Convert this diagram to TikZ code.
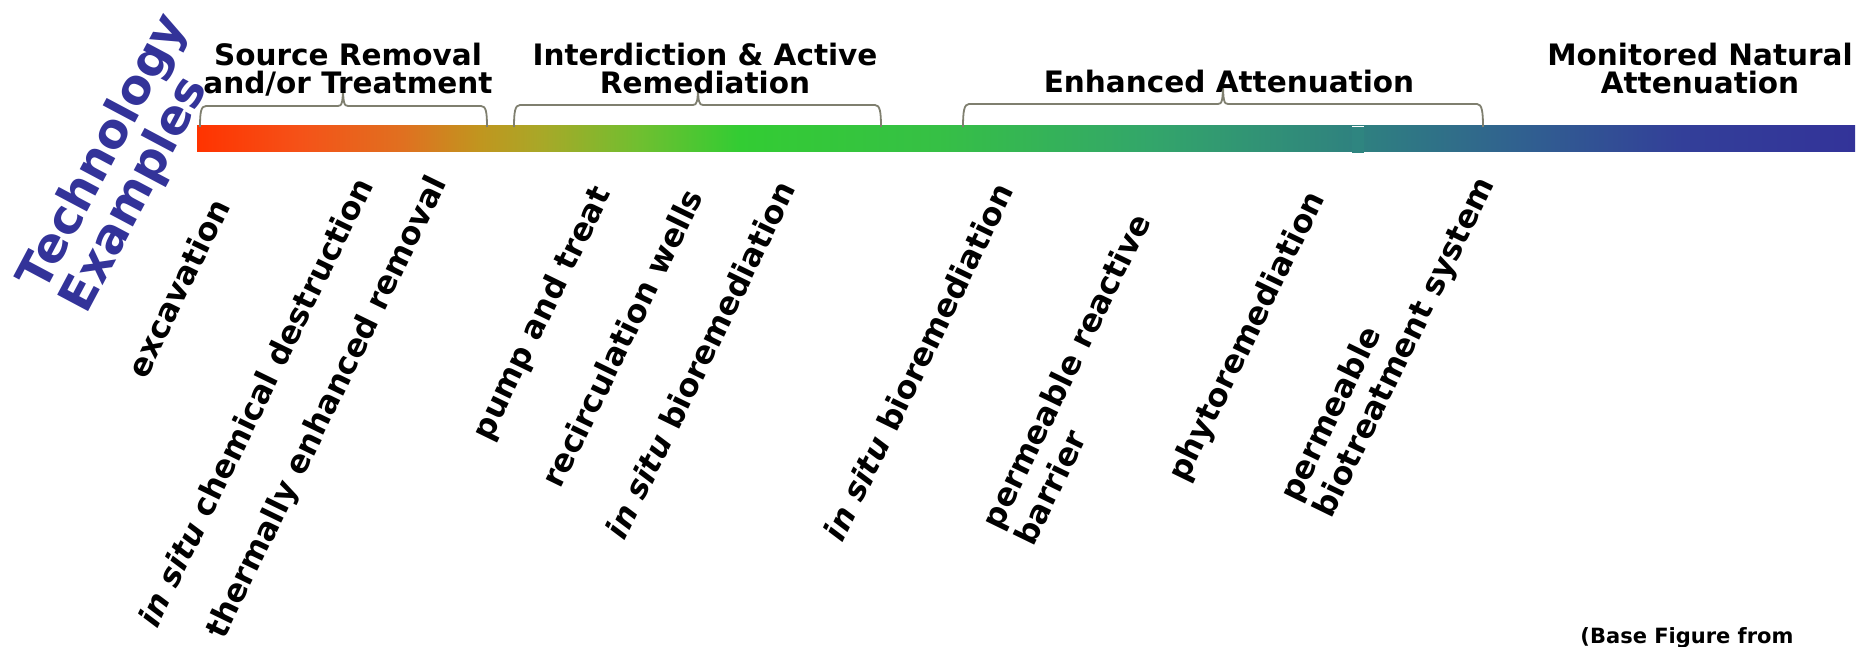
\documentclass[tikz,border=0pt]{standalone}
\usepackage{fontspec}
\setmainfont{DejaVu Sans}
\definecolor{techblue}{HTML}{333399}
\definecolor{bracegray}{HTML}{7F7F6F}
\definecolor{ca}{HTML}{FF3300}
\definecolor{cb}{HTML}{F55218}
\definecolor{cc}{HTML}{E07020}
\definecolor{cd}{HTML}{C0961F}
\definecolor{ce}{HTML}{A8A828}
\definecolor{cf}{HTML}{70BF30}
\definecolor{cg}{HTML}{33CC33}
\definecolor{ch}{HTML}{36C045}
\definecolor{ci}{HTML}{33A66A}
\definecolor{cj}{HTML}{2F8080}
\definecolor{ck}{HTML}{306090}
\definecolor{cl}{HTML}{333F99}
\definecolor{cm}{HTML}{333399}
\definecolor{notch}{HTML}{2F8580}
\pgfdeclarehorizontalshading{barshade}{100bp}{color(0bp)=(ca); color(25bp)=(ca); color(28.1bp)=(cb); color(31.2bp)=(cc); color(33.55bp)=(cd); color(35.4bp)=(ce); color(38.3bp)=(cf); color(41.35bp)=(cg); color(47.3bp)=(ch); color(53.7bp)=(ci); color(60.15bp)=(cj); color(65bp)=(ck); color(69.8bp)=(cl); color(75bp)=(cm); color(100bp)=(cm)}
\tikzset{
  ttl/.style={font=\fontsize{29.5}{28}\selectfont\bfseries, align=center, inner sep=0pt, text=black},
  lab/.style={font=\fontsize{31.5}{37}\selectfont\bfseries, align=left, inner sep=0pt, rotate=64, text=black},
  bracestyle/.style={draw=bracegray, line width=1.8pt},
}
\newcommand{\tbrace}[5]{%
  \draw[bracestyle] (#1,127) .. controls (#1,112) and (#1+1,#4) .. (#1+6,#4)
    -- (#2-5,#4) .. controls (#2-1,#4) and (#2,#4-3) .. (#2,#5)
    .. controls (#2,#4-3) and (#2+1,#4) .. (#2+5,#4)
    -- (#3-6,#4) .. controls (#3-1,#4) and (#3,112) .. (#3,127);}
\begin{document}
\begin{tikzpicture}[x=1pt,y=-1pt]
\useasboundingbox (0,0) rectangle (1871,647);
% gradient bar
\path[shading=barshade] (197,126) rectangle (1855,152);
\fill[white] (1352,126) rectangle (1364,127.5);
\fill[notch] (1352,127.5) rectangle (1364,153);
% braces
\tbrace{200}{343}{487}{106}{83}
\tbrace{514}{698}{881}{105}{83}
\tbrace{963}{1223}{1483}{104}{80}
% titles
\node[ttl, anchor=north] (src) at (348,43) {Source Removal\\and/or Treatment};
\node[ttl, anchor=north] (int) at (705,43) {Interdiction \& Active\\Remediation};
\node[ttl, anchor=base] (enh) at (1229,93) {Enhanced Attenuation};
\node[ttl, anchor=north] (mna) at (1700,43) {Monitored Natural\\Attenuation};
% side title
\node[font=\fontsize{48}{42}\selectfont\bfseries, text=techblue, align=left, inner sep=0pt, rotate=62, anchor=north west] (tech) at (12,276) {Technology\\Examples};
% technology labels
\node[lab] (l1) at (178,288) {excavation};
\node[lab] (l2) at (255,402) {\textit{in situ} chemical destruction};
\node[lab] (l3) at (328,408) {thermally enhanced removal};
\node[lab] (l4) at (543,314) {pump and treat};
\node[lab] (l5) at (622,338) {recirculation wells};
\node[lab] (l6) at (700,360) {\textit{in situ} bioremediation};
\node[lab] (l7) at (918,362) {\textit{in situ} bioremediation};
\node[lab] (l8) at (1082,379) {permeable reactive\\barrier};
\node[lab] (l9) at (1248,337) {phytoremediation};
\node[lab] (l10) at (1389,340) {permeable\\biotreatment system};
% source note
\node[font=\fontsize{21}{24}\selectfont\bfseries, anchor=base, inner sep=0pt] (base) at (1687,643) {(Base Figure from};
\end{tikzpicture}
\end{document}
